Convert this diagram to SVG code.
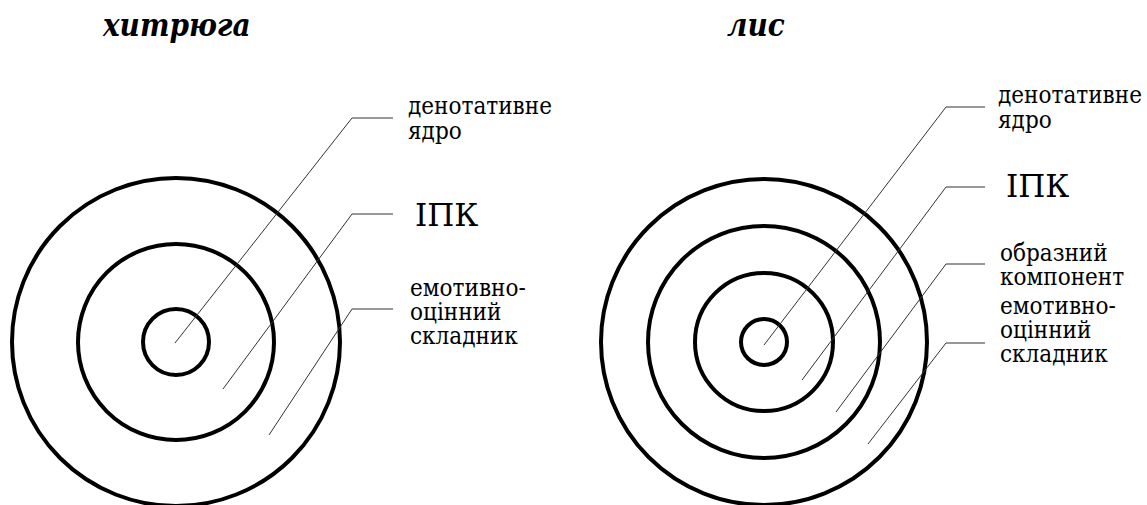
<svg xmlns="http://www.w3.org/2000/svg" width="1147" height="505" viewBox="0 0 1147 505">
<style>
.ring{fill:none;stroke:#000;stroke-width:4}
.lead{fill:none;stroke:#333;stroke-width:1}
text{fill:#000}
.lbl{font-family:'DejaVu Serif Condensed','DejaVu Serif',serif;font-stretch:condensed;font-size:24px}
.big{font-family:'DejaVu Serif',serif;font-size:31px}
.title{font-family:'DejaVu Serif Condensed','DejaVu Serif',serif;font-stretch:condensed;font-size:31px;font-weight:bold;font-style:italic}
</style>
<rect width="1147" height="505" fill="#fff"/>
<g id="title-left"><text class="title" x="103" y="36">хитрюга</text></g>
<g id="title-right"><text class="title" x="727" y="36">лис</text></g>
<g id="left-rings">
<circle class="ring" cx="176" cy="342" r="164"/>
<circle class="ring" cx="176" cy="342" r="98"/>
<circle class="ring" cx="176" cy="342" r="33"/>
</g>
<g id="right-rings">
<circle class="ring" cx="764" cy="342" r="163"/>
<circle class="ring" cx="764" cy="342" r="116"/>
<circle class="ring" cx="764" cy="342" r="69"/>
<circle class="ring" cx="764" cy="342" r="23"/>
</g>
<g id="connectors">
<polyline class="lead" points="175,343 352,118 393,118"/>
<polyline class="lead" points="223,389 352,214 393,214"/>
<polyline class="lead" points="269,435 352,309 393,309"/>
<polyline class="lead" points="764,345 946,107 985,107"/>
<polyline class="lead" points="802,380 946,187 985,187"/>
<polyline class="lead" points="836,412 946,264 985,264"/>
<polyline class="lead" points="868,444 946,343 985,343"/>
</g>
<g id="left-labels">
<text class="lbl" x="408" y="114">денотативне</text>
<text class="lbl" x="408" y="139">ядро</text>
<text class="big" x="415" y="226">ІПК</text>
<text class="lbl" x="410" y="296">емотивно-</text>
<text class="lbl" x="410" y="320">оцінний</text>
<text class="lbl" x="410" y="344">складник</text>
</g>
<g id="right-labels">
<text class="lbl" x="998" y="103">денотативне</text>
<text class="lbl" x="998" y="128">ядро</text>
<text class="big" x="1006" y="197">ІПК</text>
<text class="lbl" x="1000" y="261">образний</text>
<text class="lbl" x="1000" y="285">компонент</text>
<text class="lbl" x="1000" y="314">емотивно-</text>
<text class="lbl" x="1000" y="338">оцінний</text>
<text class="lbl" x="1000" y="362">складник</text>
</g>
</svg>
